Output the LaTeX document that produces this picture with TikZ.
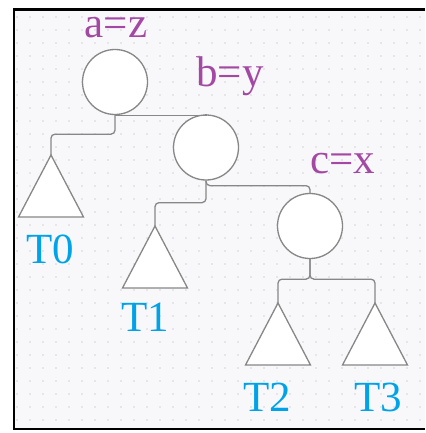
\documentclass[tikz,border=0pt]{standalone}
\usepackage{fontspec}
\setmainfont{Liberation Serif}
\definecolor{keypurple}{RGB}{163,73,164}
\definecolor{treeblue}{RGB}{0,162,232}
\definecolor{edgegray}{RGB}{135,135,135}
\definecolor{paper}{RGB}{248,248,250}
\definecolor{griddot}{RGB}{212,212,218}

\begin{document}
\begin{tikzpicture}[x=1pt, y=-1pt,
    keynode/.style={circle, draw=edgegray, fill=white, line width=1.3pt, minimum size=65pt, inner sep=0pt},
    edge/.style={draw=edgegray, line width=1.3pt, rounded corners=4pt},
    subtree/.style={draw=edgegray, fill=white, line width=1.3pt},
    keylabel/.style={text=keypurple, font=\fontsize{43}{43}\selectfont, anchor=base, inner sep=0pt},
    treelabel/.style={text=treeblue, font=\fontsize{43}{43}\selectfont, anchor=base, inner sep=0pt}]
    \useasboundingbox (0,0) rectangle (425,433);
    % paper with dot grid
    \fill[paper] (14,9.5) rectangle (425,429);
    \foreach \gx in {0,...,31} {
      \foreach \gy in {0,...,31} {
        \fill[griddot] (17+13*\gx,17+13*\gy) circle (0.8pt);
      }
    }
    \draw[line width=2.2pt] (425,9.5) -- (14,9.5) -- (14,429) -- (425,429);

    % rotated keys
    \node[keynode] (a) at (115,82) {};
    \node[keynode] (b) at (206,147.5) {};
    \node[keynode] (c) at (310,226) {};

    % subtrees
    \foreach \n/\x/\y in {t0/51/155, t1/155/226, t2/278/303, t3/375/303} {
      \coordinate (\n) at (\x,\y);
      \draw[subtree] (\n) -- ++(-32.5,62) -- ++(65,0) -- cycle;
    }

    % links
    \draw[edge, sharp corners] (a.south) -| (b.north);
    \draw[edge] (a.south) -- ++(0,19) -| (t0);
    \draw[edge] (b.south) -- ++(0,5) -| (c.north);
    \draw[edge] (b.south) -- ++(0,22) -| (t1);
    \draw[edge] (c.south) -- ++(0,20) -| (t2);
    \draw[edge] (c.south) -- ++(0,20) -| (t3);

    % labels
    \node[keylabel] (la) at (116,38) {a=z};
    \node[keylabel] (lb) at (230,87) {b=y};
    \node[keylabel] (lc) at (343,173) {c=x};
    \node[treelabel] (l0) at (50,263) {T0};
    \node[treelabel] (l1) at (145,331) {T1};
    \node[treelabel] (l2) at (267,411) {T2};
    \node[treelabel] (l3) at (378,411) {T3};
\end{tikzpicture}
\end{document}
